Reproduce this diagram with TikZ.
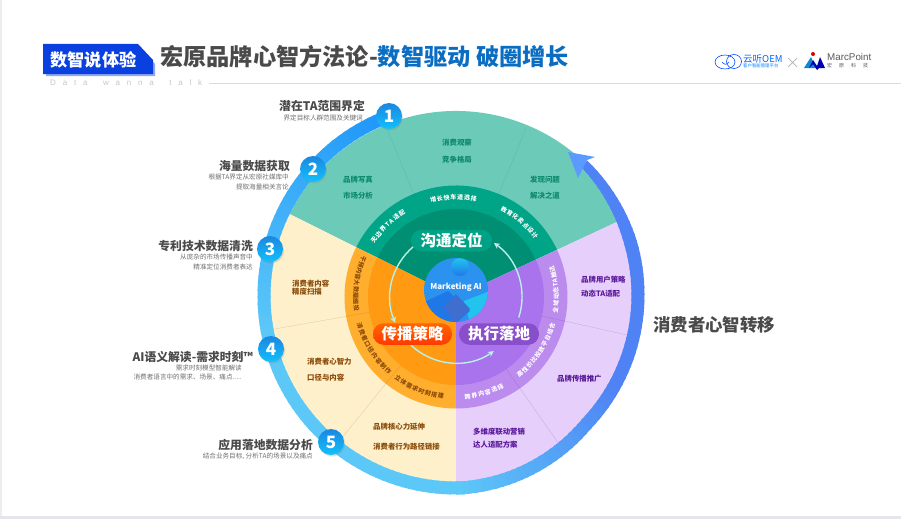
\documentclass[tikz,border=0pt]{standalone}
\usepackage{fontspec}
\setmainfont{Noto Sans CJK SC}
\newfontfamily\latinfont{Liberation Sans}
\usepackage{tikz}
\usetikzlibrary{arrows.meta,positioning,shadows,decorations.text}

\definecolor{greeno}{HTML}{6CCBB8}
\definecolor{greenm}{HTML}{00A588}
\definecolor{greeni}{HTML}{008F72}
\definecolor{yellowo}{HTML}{FDF0CA}
\definecolor{yellowm}{HTML}{FFAE2E}
\definecolor{yellowi}{HTML}{FF9A12}
\definecolor{purpleo}{HTML}{E6D0FB}
\definecolor{purplem}{HTML}{BB8BEE}
\definecolor{purplei}{HTML}{A873EC}
\definecolor{ringa}{HTML}{1E96FA}
\definecolor{ringb}{HTML}{5CC8F8}
\definecolor{ringc}{HTML}{4F82F5}
\definecolor{headgray}{HTML}{4A4A4A}
\definecolor{subgray}{HTML}{707070}
\definecolor{titleblue}{HTML}{0A6DC2}
\definecolor{badgeblue}{HTML}{0A40E0}
\definecolor{tipblue}{HTML}{5B9AFF}
\definecolor{discblue}{HTML}{2C92F0}
\definecolor{discleft}{HTML}{1F78E8}
\definecolor{discmid}{HTML}{3E6FD0}
\definecolor{discright}{HTML}{22C4EE}
\definecolor{greentxt}{HTML}{0D8A6D}
\definecolor{browntxt}{HTML}{8A4A08}
\definecolor{violettxt}{HTML}{5A189A}
\definecolor{arcline}{HTML}{B8F0EA}

% text running along a ring: start angle, end angle, radius, colour, text
\newcommand{\ringtext}[5]{
    \path[decorate, decoration={text along path, text align={fit to path}, text color=#4,
        text={|\fontsize{6}{6}\selectfont\bfseries|#5}}]
        (#1:#3) arc[start angle=#1, end angle=#2, radius=#3];
}

\begin{document}
\begin{tikzpicture}[
        x=1pt, y=-1pt,
        head/.style   = {anchor=east, inner sep=0pt, font=\fontsize{11.8}{12}\selectfont\bfseries, text=headgray},
        sub/.style    = {anchor=east, inner sep=0pt, font=\fontsize{6.6}{7}\selectfont, text=subgray},
        greenlab/.style  = {inner sep=0pt, font=\fontsize{7.4}{8}\selectfont\bfseries, text=greentxt},
        brownlab/.style  = {anchor=west, inner sep=0pt, font=\fontsize{7.4}{8}\selectfont\bfseries, text=browntxt},
        violetlab/.style = {anchor=west, inner sep=0pt, font=\fontsize{7.4}{8}\selectfont\bfseries, text=violettxt},
        num/.style    = {circle, inner sep=0pt, minimum size=26pt, top color=ringa!90!black, bottom color=ringa!60!cyan, text=white,
                         font=\fontsize{17}{17}\selectfont\bfseries, drop shadow={opacity=.25, shadow xshift=1pt, shadow yshift=-1.5pt}},
        pill/.style   = {rounded corners=10.5pt, inner sep=0pt, minimum height=21.5pt, minimum width=80pt, text=white,
                         font=\fontsize{15.5}{16}\selectfont\bfseries},
        arcarrow/.style = {-{Stealth[length=6pt,width=6pt]}, draw=arcline, line width=1.4pt},
        sepline/.style  = {line width=.4pt, opacity=.2}]

    \useasboundingbox (0,0) rectangle (901,519);
    \fill[white] (0,0) rectangle (901,519);
    \fill[black!7] (0,0) rectangle (2,519);
    \fill[blue!30!black!10] (0,516) rectangle (901,519);

    % title bar
    \fill[badgeblue!45] (46,47) -- (140,47) -- (155,64) -- (155,76) -- (46,76) -- cycle;
    \fill[badgeblue] (43,44) -- (138,44) -- (153,60) -- (153,74) -- (43,74) -- cycle;
    \node[inner sep=0pt, text=white, font=\fontsize{17.2}{18}\selectfont\bfseries] (badge) at (93.5,60) {数智说体验};
    \node[anchor=west, inner sep=0pt, font=\fontsize{23.2}{24}\selectfont\bfseries] (title) at (160,57)
        {\textcolor{headgray}{宏原品牌心智方法论-}\textcolor{titleblue}{数智驱动 破圈增长}};
    \node[anchor=west, inner sep=0pt, text=black!22, font=\latinfont\fontsize{8}{8}\selectfont\addfontfeature{LetterSpace=85}] (slogan) at (50,83) {Data\hspace{6.5pt} wanna\hspace{6.5pt} talk};
    \draw[black!14, line width=.7pt] (209,83) -- (901,83);

    % logos
    \draw[blue!70!cyan, line width=.6pt] (725,62) ellipse[x radius=10, y radius=7];
    \draw[blue!70!cyan, line width=.6pt] (734,61.5) ellipse[x radius=7.5, y radius=7];
    \draw[blue!70!cyan, line width=.6pt] (722,62) .. controls (724,65) and (727,65) .. (729,62);
    \node[anchor=west, inner sep=0pt, text=blue!60!cyan, font=\fontsize{9.5}{10}\selectfont] (yuntext) at (743,58.5) {云听OEM};
    \node[anchor=west, inner sep=0pt, text=blue!50!cyan, font=\fontsize{4.4}{5}\selectfont] (yunsub) at (743,66) {客户智能管理平台};
    \draw[black!30, line width=.7pt] (788,58) -- (797,67) (797,58) -- (788,67);
    \fill[red!85!black] (813,54) circle[radius=2];
    \fill[cyan!70!blue] (804,68) -- (811,57) -- (816,68) -- cycle;
    \fill[blue!70!black] (809,68) -- (813,60) -- (817,66) -- (820,57) -- (825,68) -- (819,68) -- (817,70) -- (813,64) -- cycle;
    \node[anchor=west, inner sep=0pt, text=black!65, font=\latinfont\fontsize{9.8}{10}\selectfont] (marctext) at (827,57) {MarcPoint};
    \node[anchor=west, inner sep=0pt, text=black!65, font=\fontsize{5}{6}\selectfont] (marcsub) at (827,66) {宏\hspace{7pt}原\hspace{7pt}科\hspace{7pt}技};

    % the wheel, y pointing up inside the scope
    \begin{scope}[shift={(456,297)}, y=1pt]
        \foreach \s/\sa/\sb in {green/25/153.5, yellow/153.5/270, purple/270/385}
        \foreach \r/\tail in {186/o, 111.5/m, 88/i}
        \fill[fill=\s\tail] (0,0) -- (\sa:\r) arc[start angle=\sa, end angle=\sb, radius=\r] -- cycle;

        % thin lines between the fields
        \foreach \a/\c in {112.3/greeni, 67.5/greeni, 190/browntxt, 231/browntxt, -12.5/violettxt, -55/violettxt}
        \draw[sepline, draw=\c] (\a:88) -- (\a:183);

        % outer ring, left part then right part
        \foreach \t in {110,112,...,270} {
            \pgfmathsetmacro\p{min(100,(\t-110)/0.8)}
            \draw[line width=13pt, draw=ringb!\p!ringa] (0,1) ++(\t:192) arc[start angle=\t, end angle=\t+2.6, radius=192];
        }
        \foreach \t in {270,272,...,402} {
            \pgfmathsetmacro\g{min(1,(\t-270)/45)}
            \pgfmathsetmacro\p{min(100,(\t-270)/0.6)}
            \pgfmathsetmacro\w{\t>375 ? 13-(\t-375)*0.15 : 13}
            \pgfmathsetmacro\cx{-5*\g}
            \pgfmathsetmacro\cy{1+\g}
            \pgfmathsetmacro\r{192-5*\g}
            \draw[line width=\w pt, draw=ringc!\p!ringb] (\cx,\cy) ++(\t:\r) arc[start angle=\t, end angle=\t+2.6, radius=\r];
        }
        \fill[tipblue] (112,145) -- (139,140) -- (131,137) -- (122,119) -- cycle;

        % centre disc
        \begin{scope}
            \clip (0,7) circle[radius=32];
            \fill[discblue] (-32,-25) rectangle (32,39);
            \fill[discright] (8,-4) -- (34,6) -- (34,-26) -- (14,-26) -- cycle;
            \fill[discleft] (-34,-6) -- (-8,6) -- (14,-14) -- (0,-26) -- (-34,-26) -- cycle;
            \fill[discmid] (0,3) -- (-13,-11) -- (0,-26) -- (14,-12) -- cycle;
            \shade[top color=discright, bottom color=discleft] (4,30) circle[radius=9];
        \end{scope}

        % arrows between the three pills
        \coordinate (a1) at (130:66);
        \coordinate (a2) at (226:66);
        \coordinate (a3) at (-18:66);
        \draw[arcarrow] (a1) arc[start angle=130, end angle=203, radius=66];
        \draw[arcarrow] (a2) arc[start angle=226, end angle=305, radius=66];
        \draw[arcarrow] (a3) arc[start angle=-18, end angle=55, radius=66];

        % ring labels
        \ringtext{147}{121}{97.5}{white}{无边界TA适配}
        \ringtext{105}{78}{97.5}{white}{增长快车道选择}
        \ringtext{63}{36}{97.5}{white}{教育化卖点设计}
        \ringtext{156}{188}{102.5}{browntxt}{干预内容大数据细投}
        \ringtext{195}{229}{102.5}{browntxt}{消费者口径内容制作}
        \ringtext{233}{263}{102.5}{browntxt}{立体需求时刻搭建}
        \ringtext{-85}{-62}{102.5}{white}{跨界内容选择}
        \ringtext{-52}{-15}{102.5}{white}{高性价比投放平台组合}
        \ringtext{-9}{18}{102.5}{white}{全域动态TA触达}
    \end{scope}

    \node[inner sep=0pt, text=white, font=\fontsize{8}{8}\selectfont\bfseries] (ai) at (456,287) {Marketing AI};

    \node[pill, fill=greenm!85!greeni, minimum width=81pt] (p1) at (451.5,240.5) {沟通定位};
    \node[pill, top color=orange!80!red, bottom color=red!55!orange, minimum width=79pt] (p2) at (412.5,334) {传播策略};
    \node[pill, fill=purplei!60!violettxt, minimum width=80pt] (p3) at (499,334) {执行落地};

    % field labels
    \node[greenlab] (g1) at (358,180) {品牌写真};
    \node[greenlab] (g2) at (358,196) {市场分析};
    \node[greenlab] (g3) at (457,143) {消费观察};
    \node[greenlab] (g4) at (457,160) {竞争格局};
    \node[greenlab] (g5) at (545,180) {发现问题};
    \node[greenlab] (g6) at (545,196) {解决之道};
    \node[brownlab] (y1) at (292,284) {消费者内容};
    \node[brownlab] (y2) at (292,292) {精度扫描};
    \node[brownlab] (y3) at (307,362) {消费者心智力};
    \node[brownlab] (y4) at (307,378) {口径与内容};
    \node[brownlab] (y5) at (373,427) {品牌核心力延伸};
    \node[brownlab] (y6) at (373,447) {消费者行为路径链接};
    \node[violetlab] (v1) at (581,280) {品牌用户策略};
    \node[violetlab] (v2) at (581,294) {动态TA适配};
    \node[violetlab] (v3) at (557,379) {品牌传播推广};
    \node[violetlab] (v4) at (473,432) {多维度联动营销};
    \node[violetlab] (v5) at (473,445) {达人适配方案};

    % numbered steps
    \foreach \n/\x/\y in {1/389/116, 2/313/169, 3/270/249, 4/271/349, 5/331/442}
    \node[num] (n\n) at (\x,\y) {\n};

    \node[head] (h1) at (365,106) {潜在TA范围界定};
    \node[sub] (s1) at (363,118) {界定目标人群范围及关键词};
    \node[head] (h2) at (290,166) {海量数据获取};
    \node[sub] (s2a) at (289,177) {根据TA界定从宏原社媒库中};
    \node[sub] (s2b) at (289,187) {提取海量相关言论};
    \node[head] (h3) at (253,246) {专利技术数据清洗};
    \node[sub] (s3a) at (253,257) {从庞杂的市场传播声音中};
    \node[sub] (s3b) at (253,267) {精准定位消费者表达};
    \node[head] (h4) at (253,357) {AI语义解读-需求时刻™};
    \node[sub] (s4a) at (242,368) {需求时刻模型智能解读};
    \node[sub] (s4b) at (242,377) {消费者语言中的需求、场景、痛点.....};
    \node[head] (h5) at (313,445) {应用落地数据分析};
    \node[sub] (s5) at (313,456) {结合业务目标, 分析TA的场景以及痛点};

    \node[anchor=west, inner sep=0pt, text=headgray, font=\fontsize{17.4}{18}\selectfont\bfseries] (shift) at (653,325) {消费者心智转移};
\end{tikzpicture}
\end{document}
